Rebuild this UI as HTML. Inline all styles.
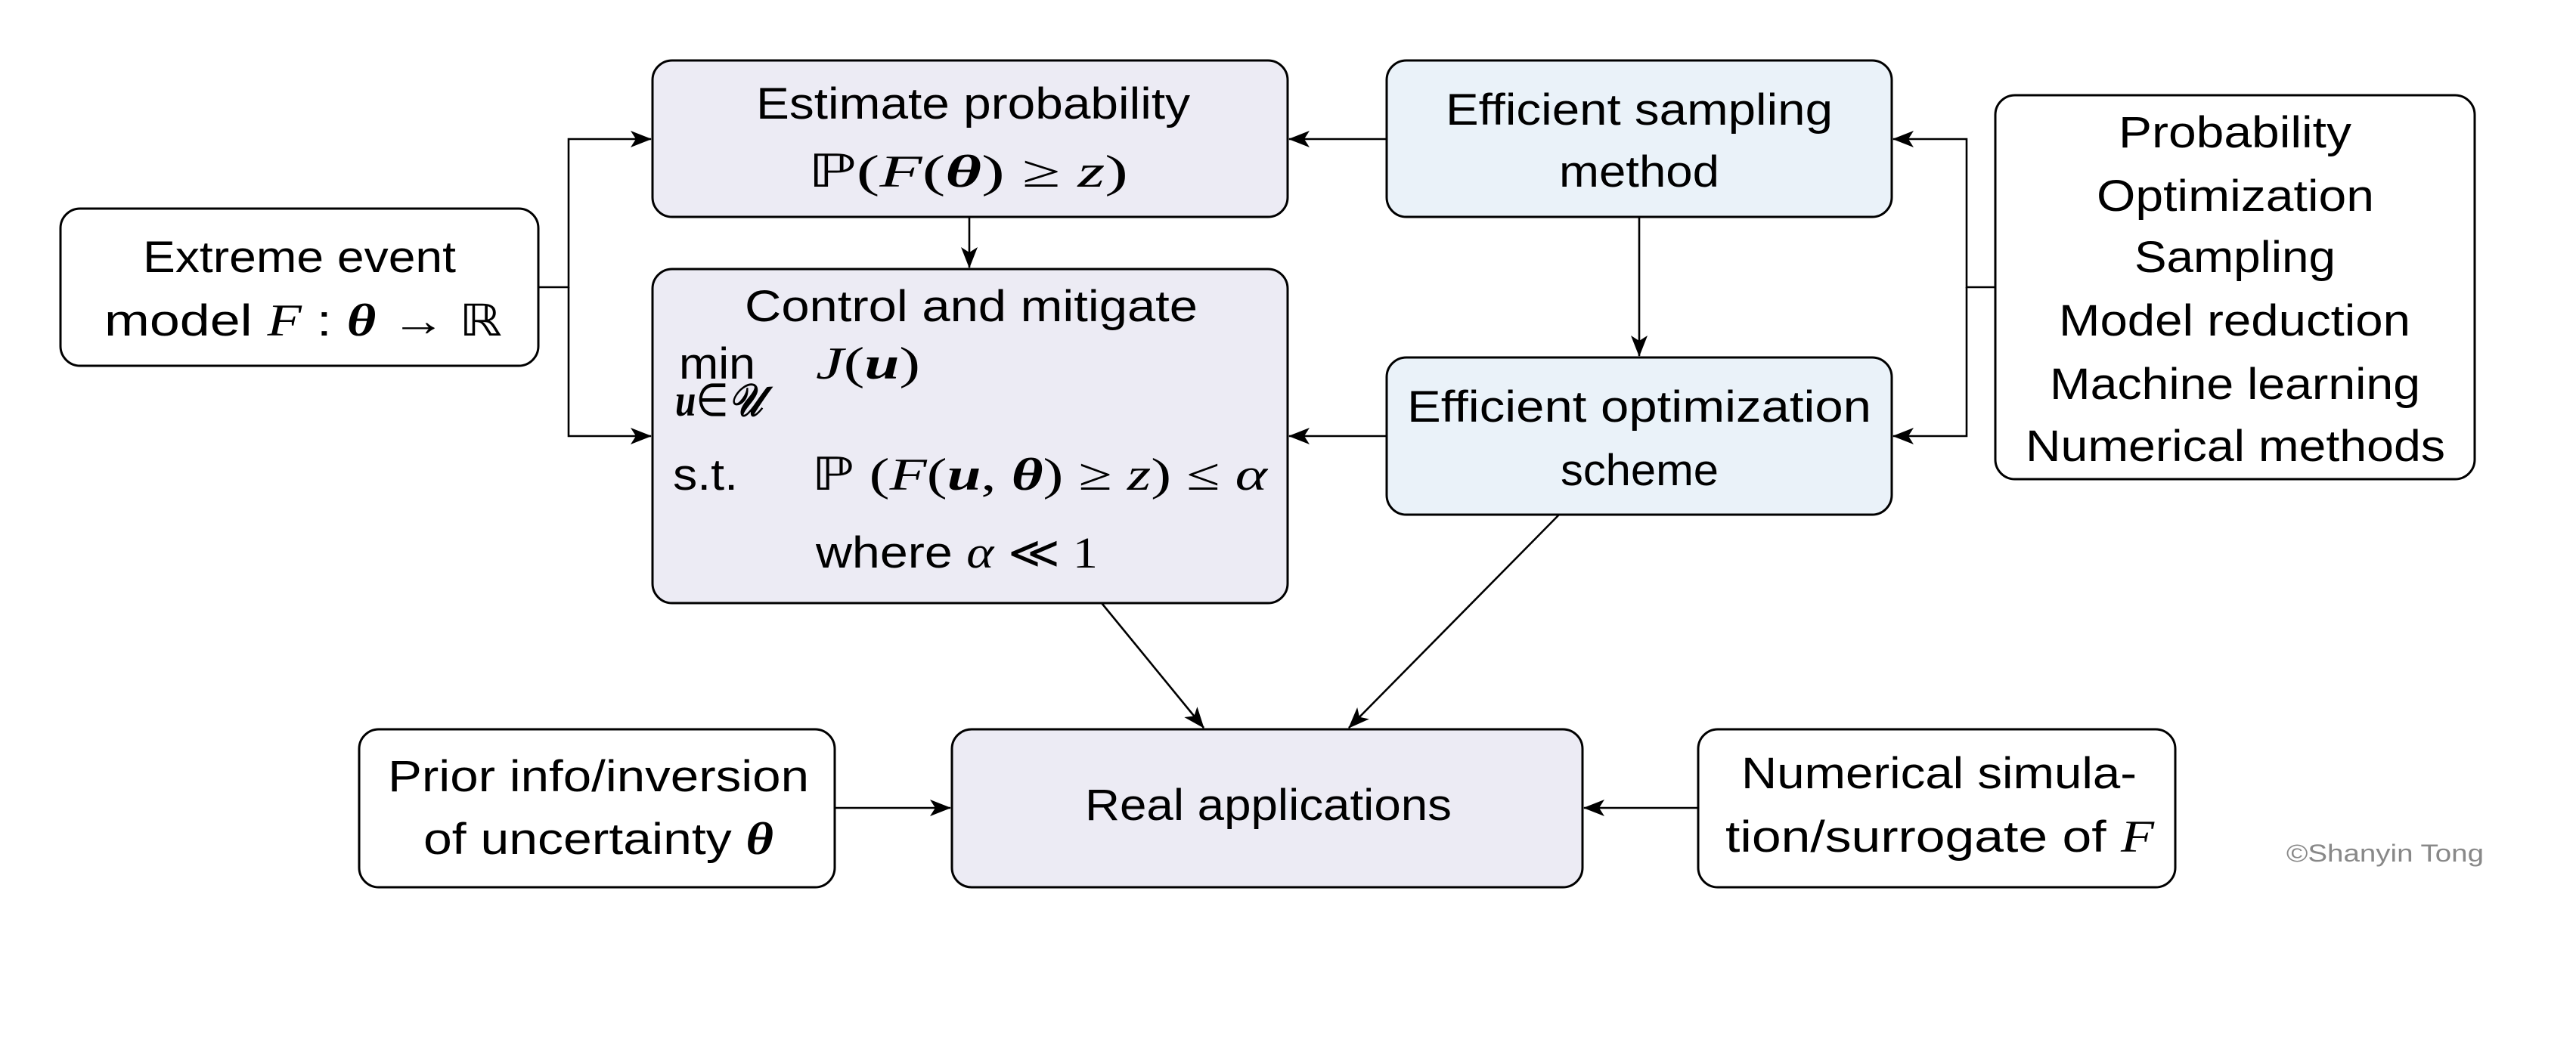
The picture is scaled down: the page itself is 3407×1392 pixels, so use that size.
<!DOCTYPE html>
<html><head><meta charset="utf-8"><style>
html,body{margin:0;padding:0;background:#fff;}
svg{display:block;}
.t{font-family:"Liberation Sans",sans-serif;font-size:58px;fill:#000;}
.m{font-family:"Liberation Serif",serif;font-size:60px;fill:#000;font-style:italic;}
</style></head><body>
<svg width="3407" height="1392" viewBox="0 0 3407 1392" xmlns="http://www.w3.org/2000/svg">
<defs>
<marker id="a" viewBox="0 0 28 22" refX="27" refY="11" markerWidth="28" markerHeight="22" markerUnits="userSpaceOnUse" orient="auto">
<path d="M0,0 L28,11 L0,22 L7,11 Z" fill="#000"/>
</marker>
</defs>
<g stroke="#000" stroke-width="3">
<rect x="863" y="80" width="840" height="207" rx="26" fill="#ecebf4"/>
<rect x="1834" y="80" width="668" height="207" rx="26" fill="#eaf2f9"/>
<rect x="2639" y="126" width="634" height="508" rx="26" fill="#fff"/>
<rect x="80" y="276" width="632" height="208" rx="26" fill="#fff"/>
<rect x="863" y="356" width="840" height="442" rx="26" fill="#ecebf4"/>
<rect x="1834" y="473" width="668" height="208" rx="26" fill="#eaf2f9"/>
<rect x="475" y="965" width="629" height="209" rx="26" fill="#fff"/>
<rect x="1259" y="965" width="834" height="209" rx="26" fill="#ecebf4"/>
<rect x="2246" y="965" width="631" height="209" rx="26" fill="#fff"/>
</g>
<g stroke="#000" stroke-width="2.6" fill="none">
<path d="M712,380 H752 V184 H861" marker-end="url(#a)"/>
<path d="M752,380 V577 H861" marker-end="url(#a)"/>
<path d="M1834,184 H1705" marker-end="url(#a)"/>
<path d="M1834,577 H1705" marker-end="url(#a)"/>
<path d="M1282,287 V354" marker-end="url(#a)"/>
<path d="M2168,287 V471" marker-end="url(#a)"/>
<path d="M2639,380 H2601 V184 H2504" marker-end="url(#a)"/>
<path d="M2601,380 V577 H2504" marker-end="url(#a)"/>
<path d="M1457,798 L1592,963" marker-end="url(#a)"/>
<path d="M2062,681 L1784,963" marker-end="url(#a)"/>
<path d="M1104,1069 H1257" marker-end="url(#a)"/>
<path d="M2246,1069 H2095" marker-end="url(#a)"/>
</g>
<text class="t" x="1000" y="157" textLength="574" lengthAdjust="spacingAndGlyphs">Estimate probability</text>
<text class="m" x="1068" y="247" textLength="424" lengthAdjust="spacingAndGlyphs"><tspan font-style="normal">ℙ(</tspan>F<tspan font-style="normal">(</tspan><tspan font-weight="bold">θ</tspan><tspan font-style="normal">)  ≥  </tspan>z<tspan font-style="normal">)</tspan></text>

<text class="t" x="189" y="360" textLength="414" lengthAdjust="spacingAndGlyphs">Extreme event</text>
<text class="t" x="138" y="444" textLength="526" lengthAdjust="spacingAndGlyphs">model <tspan class="m">F</tspan> : <tspan class="m" font-weight="bold">θ</tspan> <tspan font-family="Liberation Serif">→ ℝ</tspan></text>

<text class="t" x="985" y="425" textLength="599" lengthAdjust="spacingAndGlyphs">Control and mitigate</text>
<text class="t" x="898" y="501" textLength="101" lengthAdjust="spacingAndGlyphs">min</text>
<text class="m" x="893" y="550" font-size="40" font-weight="bold" textLength="115" lengthAdjust="spacingAndGlyphs">u<tspan font-weight="normal" font-style="normal">∈</tspan>𝒰</text>
<text class="m" x="1079" y="501" textLength="138" lengthAdjust="spacingAndGlyphs">J<tspan font-style="normal">(</tspan><tspan font-weight="bold">u</tspan><tspan font-style="normal">)</tspan></text>
<text class="t" x="890" y="648" textLength="86" lengthAdjust="spacingAndGlyphs">s.t.</text>
<text class="m" x="1073" y="648" textLength="603" lengthAdjust="spacingAndGlyphs"><tspan font-style="normal">ℙ (</tspan>F<tspan font-style="normal">(</tspan><tspan font-weight="bold">u</tspan><tspan font-style="normal">, </tspan><tspan font-weight="bold">θ</tspan><tspan font-style="normal">) ≥ </tspan>z<tspan font-style="normal">) ≤ </tspan>α</text>
<text class="t" x="1079" y="751" textLength="373" lengthAdjust="spacingAndGlyphs">where <tspan class="m">α</tspan> <tspan font-family="Liberation Serif">≪ 1</tspan></text>

<text class="t" x="1912" y="165" textLength="512" lengthAdjust="spacingAndGlyphs">Efficient sampling</text>
<text class="t" x="2062" y="247" textLength="212" lengthAdjust="spacingAndGlyphs">method</text>
<text class="t" x="1861" y="558" textLength="614" lengthAdjust="spacingAndGlyphs">Efficient optimization</text>
<text class="t" x="2064" y="642" textLength="209" lengthAdjust="spacingAndGlyphs">scheme</text>

<g class="t">
<text x="2802" y="195" textLength="308" lengthAdjust="spacingAndGlyphs">Probability</text>
<text x="2773" y="279" textLength="367" lengthAdjust="spacingAndGlyphs">Optimization</text>
<text x="2823" y="360" textLength="266" lengthAdjust="spacingAndGlyphs">Sampling</text>
<text x="2723" y="444" textLength="465" lengthAdjust="spacingAndGlyphs">Model reduction</text>
<text x="2711" y="528" textLength="490" lengthAdjust="spacingAndGlyphs">Machine learning</text>
<text x="2679" y="610" textLength="555" lengthAdjust="spacingAndGlyphs">Numerical methods</text>
</g>

<text class="t" x="513" y="1047" textLength="557" lengthAdjust="spacingAndGlyphs">Prior info/inversion</text>
<text class="t" x="560" y="1130" textLength="463" lengthAdjust="spacingAndGlyphs">of uncertainty <tspan class="m" font-weight="bold">θ</tspan></text>
<text class="t" x="1435" y="1085" textLength="485" lengthAdjust="spacingAndGlyphs">Real applications</text>
<text class="t" x="2303" y="1043" textLength="523" lengthAdjust="spacingAndGlyphs">Numerical simula-</text>
<text class="t" x="2282" y="1127" textLength="567" lengthAdjust="spacingAndGlyphs">tion/surrogate of <tspan class="m">F</tspan></text>

<text x="3024" y="1140" font-family="Liberation Sans,sans-serif" font-size="32" fill="#888" textLength="261" lengthAdjust="spacingAndGlyphs">©Shanyin Tong</text>
</svg>
</body></html>
